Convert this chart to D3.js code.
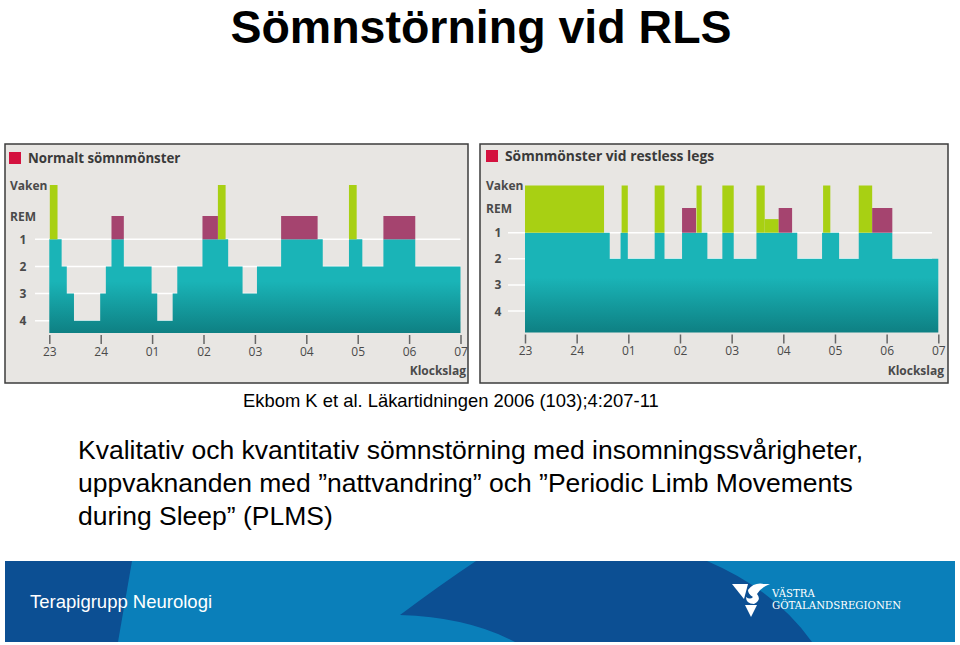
<!DOCTYPE html>
<html><head><meta charset="utf-8">
<script src="https://cdn.jsdelivr.net/npm/d3@7"></script>
<style>
body{margin:0;background:#fff;}
svg{display:block;}
</style></head>
<body>
<svg id="slide" width="960" height="645"></svg>
<script>
// ---------- data ----------
const hourLabels = ["23","24","01","02","03","04","05","06","07"];
const hourTicks = [0,1,2,3,4,5,6,7,8];           // hours after 23:00
const stageNames = ["Vaken","REM","1","2","3","4"];
const stageLevels = [-1,0,1,2,3,4];

// Normal sleep: step starts (hours after 23:00) and depth (1..4)
const normalStart = [0,0.24,0.34,0.48,0.99,1.10,1.21,1.45,1.99,2.10,2.40,2.49,2.98,3.48,3.76,4.04,4.51,5.32,5.83,6.09,6.50,7.12];
const normalDepth = [1,2,3,4,3,2,1,2,3,4,3,2,1,2,3,2,1,2,1,2,1,2];
const normalWakeStart = [0.01,3.28,5.83];
const normalWakeEnd   = [0.16,3.43,5.98];
const normalWakeTop   = [-1,-1,-1];
const normalRemStart  = [1.21,2.98,4.51,6.50];
const normalRemEnd    = [1.45,3.28,5.22,7.12];

// Restless legs
const rlsStart = [0,1.64,1.85,1.99,2.51,2.70,3.04,3.53,3.82,4.04,4.48,5.27,5.75,6.08,6.46,7.11];
const rlsDepth = [1,2,1,2,1,2,1,2,1,2,1,2,1,2,1,2];
const rlsWakeStart = [0,1.87,2.51,3.32,3.82,4.48,4.64,5.77,6.46];
const rlsWakeEnd   = [1.53,1.99,2.70,3.42,4.04,4.64,4.91,5.91,6.72];
const rlsWakeTop   = [-1,-1,-1,-1,-1,-1,0.45,-1,-1];
const rlsRemStart  = [3.04,4.91,6.72];
const rlsRemEnd    = [3.31,5.17,7.11];
const endHour = 8;

// ---------- styles ----------
const C = {bg:"#e8e6e3", teal1:"#1ab4b7", teal2:"#0e8083", green:"#a8d013", rem:"#a5446f", red:"#d4123f", text:"#3a3a3a"};

const svg = d3.select("#slide");
const defs = svg.append("defs");

// Title
svg.append("text").attr("x",481).attr("y",43).attr("text-anchor","middle")
  .style("font-family","'Liberation Sans',Arial,sans-serif").style("font-weight","bold")
  .style("font-size","46.5px").attr("fill","#000").text("Sömnstörning vid RLS");

function chart(cfg){
  const g = svg.append("g");
  g.append("rect").attr("x",cfg.box[0]).attr("y",cfg.box[1]).attr("width",cfg.box[2]).attr("height",cfg.box[3])
    .attr("fill",C.bg).attr("stroke","#3c3c3c").attr("stroke-width",1.5);
  // panel title
  g.append("rect").attr("x",cfg.sq[0]).attr("y",cfg.sq[1]).attr("width",12).attr("height",12).attr("fill",C.red);
  g.append("text").attr("x",cfg.sq[0]+19).attr("y",cfg.sq[1]+11)
    .style("font-family","'Open Sans',sans-serif").style("font-weight","bold").style("font-size",cfg.tsize)
    .attr("fill",C.text).text(cfg.title);

  const x = d3.scaleLinear().domain([0,endHour]).range(cfg.xr);
  const y = d3.scaleLinear().domain([-1,0,1,4]).range(cfg.yr);
  const base = cfg.base;

  const gid = "grad"+cfg.id;
  const lg = defs.append("linearGradient").attr("id",gid).attr("gradientUnits","userSpaceOnUse")
    .attr("x1",0).attr("x2",0).attr("y1",y(1)).attr("y2",base);
  lg.append("stop").attr("offset","0.45").attr("stop-color",C.teal1);
  lg.append("stop").attr("offset","1").attr("stop-color",C.teal2);

  // gridlines
  g.selectAll(".grid").data([1,2,3,4]).join("line")
    .attr("x1",cfg.gx[0]).attr("x2",cfg.gx[1]).attr("y1",d=>y(d)).attr("y2",d=>y(d))
    .attr("stroke","#ffffff").attr("stroke-width",1.5);

  // stage labels
  g.selectAll(".ylab").data(stageLevels).join("text")
    .attr("x",(d,i)=> i<2 ? cfg.lx : cfg.nx).attr("y",d=>y(d)+4.5)
    .attr("text-anchor",(d,i)=> i<2 ? "start":"middle")
    .style("font-family","'Open Sans',sans-serif").style("font-weight","bold").style("font-size","12px")
    .attr("fill","#4a4a4a").text((d,i)=>stageNames[i]);

  // teal step area
  const pts = cfg.start.map((s,i)=>[s,cfg.depth[i]]);
  pts.push([endHour,cfg.depth[cfg.depth.length-1]]);
  const area = d3.area().curve(d3.curveStepAfter).x(d=>x(d[0])).y0(base).y1(d=>y(d[1]));
  g.append("path").datum(pts).attr("d",area).attr("fill",`url(#${gid})`);

  // wake bars
  g.selectAll(".wake").data(cfg.wakeS.map((s,i)=>({s,e:cfg.wakeE[i],t:cfg.wakeT[i]}))).join("rect")
    .attr("x",d=>x(d.s)).attr("width",d=>x(d.e)-x(d.s)).attr("y",d=>y(d.t)).attr("height",d=>y(1)-y(d.t))
    .attr("fill",C.green);
  // REM bars
  g.selectAll(".rem").data(cfg.remS.map((s,i)=>({s,e:cfg.remE[i]}))).join("rect")
    .attr("x",d=>x(d.s)).attr("width",d=>x(d.e)-x(d.s)).attr("y",y(0)).attr("height",y(1)-y(0))
    .attr("fill",C.rem);

  // x axis
  const ax = g.append("g").attr("transform",`translate(0,${base+2})`)
    .call(d3.axisBottom(x).tickValues(hourTicks).tickFormat((d,i)=>hourLabels[i]).tickSize(9).tickPadding(3));
  ax.select(".domain").remove();
  ax.selectAll("line").attr("stroke","#666").attr("stroke-width",1.5);
  ax.selectAll("text").style("font-family","'Open Sans',sans-serif").style("font-size","12px").attr("fill","#4a4a4a");

  g.append("text").attr("x",cfg.kx).attr("y",375).attr("text-anchor","end")
    .style("font-family","'Open Sans',sans-serif").style("font-weight","bold").style("font-size","12px")
    .attr("fill","#4a4a4a").text("Klockslag");
}

chart({id:"a", title:"Normalt sömnmönster", tsize:"13.3px", box:[5,144,463,239], sq:[9,152],
  xr:[49.3,460.5], yr:[185,216,239.3,320.7], base:333, gx:[35,460.5], lx:10, nx:23, kx:466,
  start:normalStart, depth:normalDepth, wakeS:normalWakeStart, wakeE:normalWakeEnd, wakeT:normalWakeTop,
  remS:normalRemStart, remE:normalRemEnd});

chart({id:"b", title:"Sömnmönster vid restless legs", tsize:"13.8px", box:[480,144,468,239], sq:[486,150],
  xr:[525,938.3], yr:[185.5,208,232.7,311], base:332.5, gx:[508,932], lx:486, nx:498, kx:944,
  start:rlsStart, depth:rlsDepth, wakeS:rlsWakeStart, wakeE:rlsWakeEnd, wakeT:rlsWakeTop,
  remS:rlsRemStart, remE:rlsRemEnd});

// reference
const sans = "'Liberation Sans',Arial,sans-serif";
svg.append("text").attr("x",243).attr("y",407).style("font-family",sans).style("font-size","18.4px")
  .attr("fill","#000").text("Ekbom K et al. Läkartidningen 2006 (103);4:207-11");

const body = ["Kvalitativ och kvantitativ sömnstörning med insomningssvårigheter,",
  "uppvaknanden med ”nattvandring” och ”Periodic Limb Movements",
  "during Sleep” (PLMS)"];
svg.selectAll(".body").data(body).join("text").attr("x",78).attr("y",(d,i)=>459+i*33)
  .style("font-family",sans).style("font-size","26.5px").attr("fill","#000").text(d=>d);

// footer
const f = svg.append("g");
f.append("rect").attr("x",5).attr("y",561).attr("width",950).attr("height",81).attr("fill","#0a7fba");
f.append("path").attr("d","M5,561 L132,561 L118,642 L5,642 Z").attr("fill","#0c4f93");
f.append("path").attr("d","M476,561 L707,561 Q775,590 812,642 L515,642 Q468,617 400,615 Q440,585 476,561 Z").attr("fill","#0c4f93");
f.append("text").attr("x",30).attr("y",608).style("font-family",sans).style("font-size","18.5px")
  .attr("fill","#fff").text("Terapigrupp Neurologi");
// logo
const lgG = f.append("g").attr("fill","#fff");
lgG.append("path").attr("d","M732,584 L748,584 L744,599 Z");
lgG.append("path").attr("d","M745,605 L757,605 L751,617 Z");
lgG.append("path").attr("d","M748,590 Q754,582 764,584 L770,584 Q760,588 757,594 Q762,600 754,604 Q746,604 746,597 Q750,600 753,597 Q748,594 748,590 Z");
lgG.append("text").attr("x",772).attr("y",597).style("font-family","'DejaVu Serif',serif").style("font-size","10.2px").text("VÄSTRA");
lgG.append("text").attr("x",772).attr("y",609).style("font-family","'DejaVu Serif',serif").style("font-size","10.2px").text("GÖTALANDSREGIONEN");
</script>
</body></html>
